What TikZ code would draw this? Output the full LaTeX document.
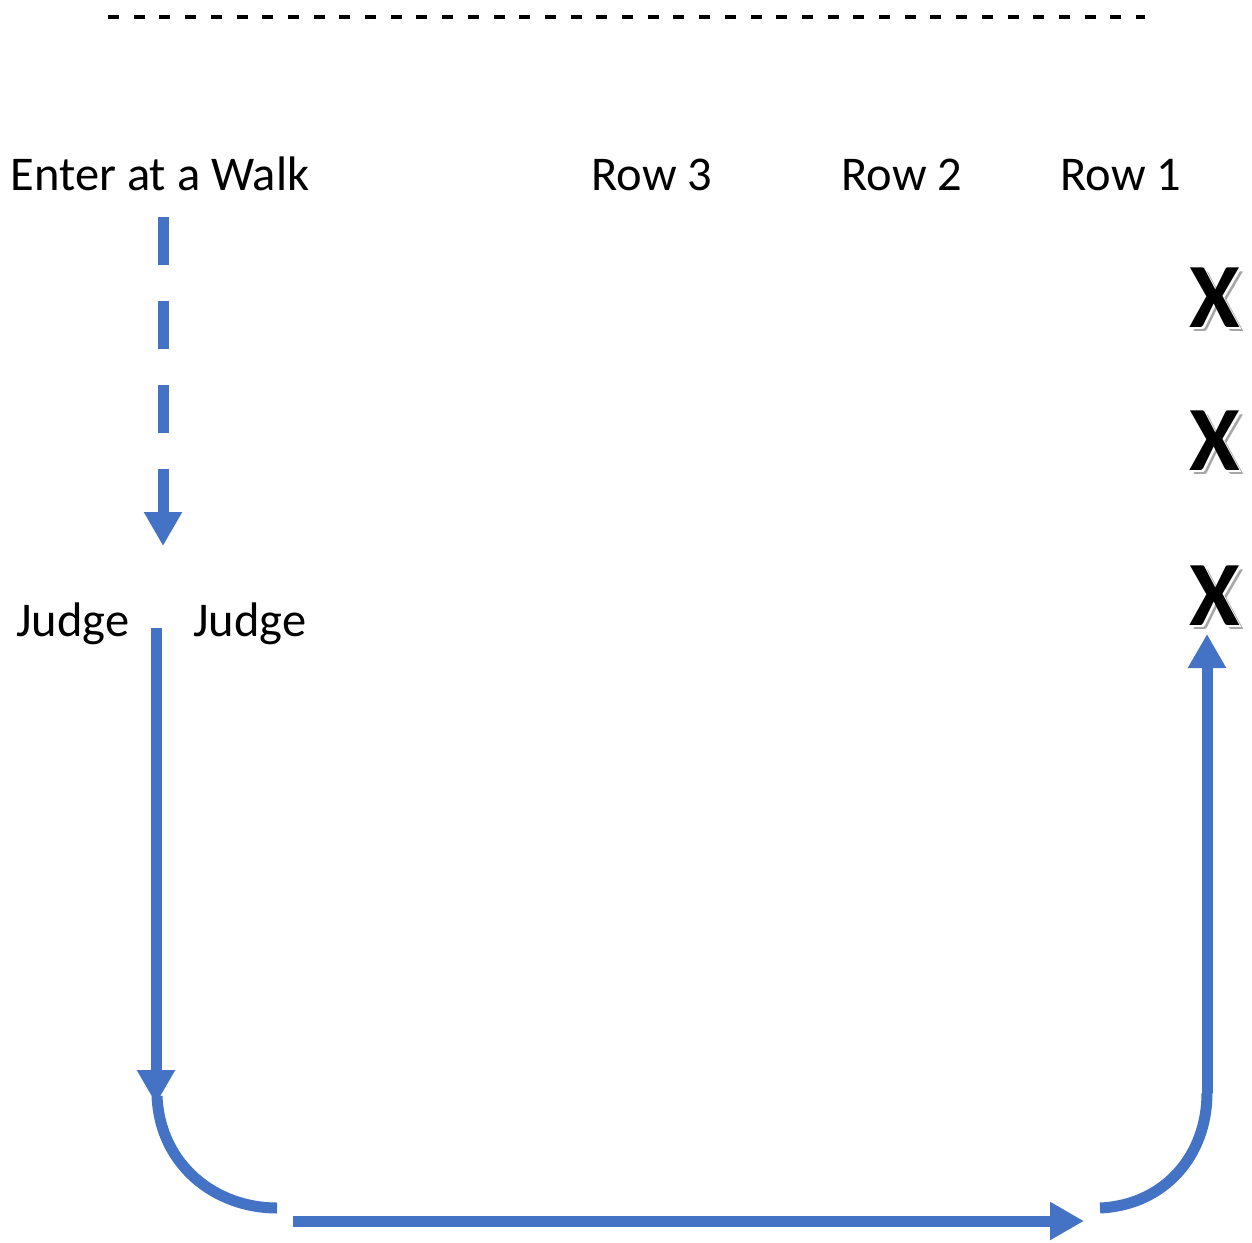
\documentclass[tikz,border=0pt]{standalone}
\usepackage{fontspec}
\setmainfont{Carlito}
\usetikzlibrary{arrows.meta}
\definecolor{flowblue}{RGB}{68,114,196}
\begin{document}
\begin{tikzpicture}[x=1pt,y=-1pt,
  lbl/.style={anchor=base,inner sep=0pt,font=\fontsize{48.5}{52}\selectfont},
  flow/.style={draw=flowblue,line width=11pt},
  tip/.style={-{Triangle[width=36pt,length=34pt]}},
  xmark/.style={inner sep=0pt,font=\fontsize{92}{96}\selectfont\bfseries}]
\useasboundingbox (0,0) rectangle (1252,1242);
% top dashed line
\coordinate (tl) at (108,17);
\coordinate (tr) at (1145,17);
\draw[line width=4pt,dash pattern=on 11pt off 14.7pt] (tl) -- (tr);
% labels
\node[lbl] (enter) at (160,190) {Enter at a Walk};
\node[lbl] (row3) at (652,190) {Row 3};
\node[lbl] (row2) at (902,190) {Row 2};
\node[lbl] (row1) at (1121,190) {Row 1};
\node[lbl] (judgeL) at (73,636) {Judge};
\node[lbl] (judgeR) at (250,636) {Judge};
% X marks
\foreach \n/\y in {x1/298,x2/441,x3/596}{
  \node[xmark,text=gray!70] at (1219,\y+4) {X};
  \node[xmark,text=white] at (1216.5,\y+1.5) {X};
  \node[xmark] (\n) at (1215,\y) {X};
}
% dashed entry arrow
\coordinate (d0) at (163,217);
\coordinate (d1) at (163,546);
\draw[flow,tip,dash pattern=on 48pt off 36pt] (d0) -- (d1);
% left down arrow
\coordinate (l0) at (156,628);
\coordinate (l1) at (156,1104);
\draw[flow,tip] (l0) -- (l1);
% left arc
\coordinate (a0) at (157,1096);
\coordinate (a1) at (277,1208);
\draw[flow] (a0) .. controls (160,1165) and (215,1208) .. (a1);
% bottom arrow
\coordinate (b0) at (293,1221);
\coordinate (b1) at (1084,1221);
\draw[flow,tip] (b0) -- (b1);
% right arc and up arrow
\coordinate (r0) at (1100,1208);
\coordinate (r1) at (1207,1093);
\coordinate (r2) at (1207,634);
\draw[flow] (r0) .. controls (1165,1205) and (1207,1155) .. (r1);
\draw[flow,tip] (r1) -- (r2);
\end{tikzpicture}
\end{document}
